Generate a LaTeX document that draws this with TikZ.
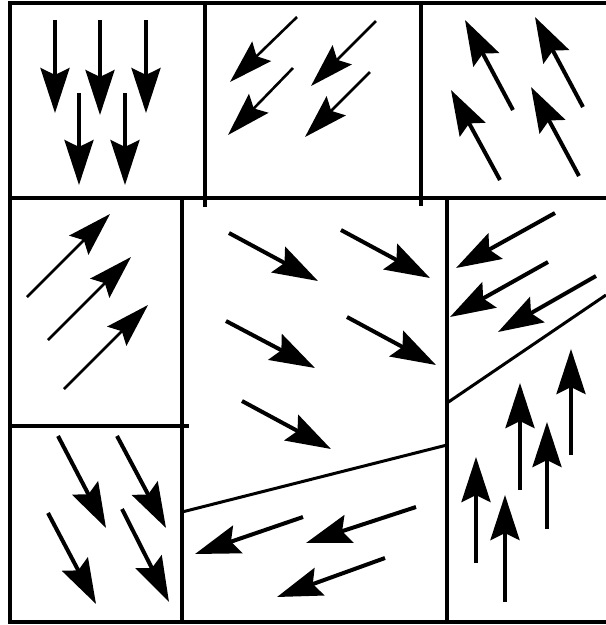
\documentclass[tikz,border=0pt]{standalone}
\usetikzlibrary{arrows.meta}
\begin{document}
\begin{tikzpicture}[x=1pt,y=-1pt,
  frame/.style={line width=3.5pt,line cap=rect},
  thick arrow/.style={line width=4pt,-{Stealth[length=45pt,width=29pt,inset=7pt]}},
  thin arrow/.style={line width=2.6pt,-{Stealth[length=44pt,width=27pt,inset=7pt]}}]
\useasboundingbox (0,0) rectangle (606,625);
% frame
\draw[frame] (606,3) -- (10,3) -- (10,622) -- (606,622);
\draw[frame] (10,198) -- (606,198);
\draw[frame] (205,3) -- (205,205);
\draw[frame] (421,3) -- (421,204);
\draw[frame] (182,198) -- (182,622);
\draw[frame] (10,426) -- (187,426);
\draw[frame] (447,198) -- (447,622);
\draw[line width=3pt] (447,403) -- (606,295);
\draw[line width=3pt] (182,512) -- (447,445);
% top-left: down
\draw[thick arrow] (55,20) -- (55,113);
\draw[thick arrow] (100,20) -- (100,115);
\draw[thick arrow] (146,20) -- (146,113);
\draw[thick arrow] (79,93) -- (79,185);
\draw[thick arrow] (125,93) -- (125,185);
% top-middle
\draw[thin arrow] (297,17) -- (230,82);
\draw[thin arrow] (293,68) -- (228,135);
\draw[thin arrow] (376,21) -- (311,86);
\draw[thin arrow] (370,72) -- (305,137);
% top-right
\draw[thick arrow] (513,110) -- (465,20);
\draw[thick arrow] (583,107) -- (535,17);
\draw[thick arrow] (500,180) -- (451,90);
\draw[thick arrow] (579,176) -- (531,87);
% middle-left
\draw[thin arrow] (27,297) -- (110,214);
\draw[thin arrow] (48,340) -- (131,257);
\draw[thin arrow] (64,389) -- (148,305);
% centre
\draw[thick arrow] (229,233) -- (318,281);
\draw[thick arrow] (341,230) -- (430,278);
\draw[thick arrow] (226,321) -- (315,368);
\draw[thick arrow] (347,317) -- (436,365);
\draw[thick arrow] (242,401) -- (331,449);
% bottom-centre
\draw[thick arrow] (303,517) -- (195,554);
\draw[thick arrow] (416,507) -- (306,543);
\draw[thick arrow] (385,558) -- (277,597);
% right-middle
\draw[thick arrow] (555,213) -- (456,268);
\draw[thick arrow] (548,262) -- (450,317);
\draw[thick arrow] (596,276) -- (498,332);
% bottom-right: up
\draw[thick arrow] (520,490) -- (520,383);
\draw[thick arrow] (571,455) -- (571,349);
\draw[thick arrow] (476,563) -- (476,457);
\draw[thick arrow] (505,602) -- (505,495);
\draw[thick arrow] (547,529) -- (547,422);
% bottom-left
\draw[thick arrow] (58,436) -- (106,528);
\draw[thick arrow] (117,436) -- (166,528);
\draw[thick arrow] (48,513) -- (96,604);
\draw[thick arrow] (122,509) -- (169,602);
\end{tikzpicture}
\end{document}
